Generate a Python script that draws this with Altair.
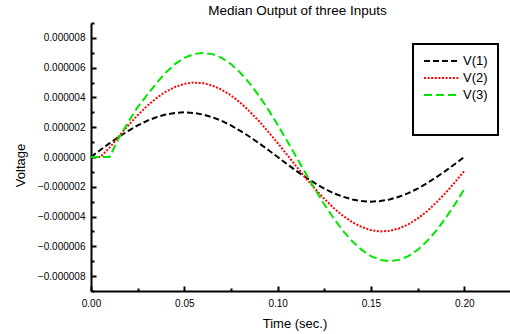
import altair as alt
import pandas as pd

# ---- data ----
time_s = [0.000, 0.005, 0.010, 0.015, 0.020, 0.025, 0.030, 0.035, 0.040, 0.045,
          0.050, 0.055, 0.060, 0.065, 0.070, 0.075, 0.080, 0.085, 0.090, 0.095,
          0.100, 0.105, 0.110, 0.115, 0.120, 0.125, 0.130, 0.135, 0.140, 0.145,
          0.150, 0.155, 0.160, 0.165, 0.170, 0.175, 0.180, 0.185, 0.190, 0.195,
          0.200]
# values in microvolts
v1_uV = [0.00, 0.47, 0.93, 1.36, 1.76, 2.12, 2.43, 2.67, 2.85, 2.96,
         3.00, 2.96, 2.85, 2.67, 2.43, 2.12, 1.76, 1.36, 0.93, 0.47,
         0.00, -0.47, -0.93, -1.36, -1.76, -2.12, -2.43, -2.67, -2.85, -2.96,
         -3.00, -2.96, -2.85, -2.67, -2.43, -2.12, -1.76, -1.36, -0.93, -0.47,
         0.00]
v2_uV = [0.00, 0.00, 0.63, 1.40, 2.13, 2.81, 3.42, 3.95, 4.38, 4.70,
         4.91, 5.00, 4.96, 4.80, 4.52, 4.14, 3.65, 3.06, 2.41, 1.69,
         0.94, 0.16, -0.63, -1.40, -2.13, -2.81, -3.42, -3.95, -4.38, -4.70,
         -4.91, -5.00, -4.96, -4.80, -4.52, -4.14, -3.65, -3.06, -2.41, -1.69,
         -0.94]
v3_uV = [0.00, 0.00, 0.00, 1.30, 2.35, 3.35, 4.15, 4.95, 5.66, 6.24,
         6.66, 6.91, 7.00, 6.91, 6.66, 6.24, 5.66, 4.95, 4.11, 3.18,
         2.16, 1.09, 0.00, -1.09, -2.16, -3.18, -4.11, -4.95, -5.66, -6.24,
         -6.66, -6.91, -7.00, -6.91, -6.66, -6.24, -5.66, -4.95, -4.11, -3.18,
         -2.16]

series_names = ["V(1)", "V(2)", "V(3)"]
series_colors = ["#000000", "#ff0000", "#00e600"]
series_dashes = [[6, 3], [2, 1.6], [8, 4]]

x_major = [0.0, 0.05, 0.10, 0.15, 0.20]
x_all_ticks = [0.0, 0.025, 0.05, 0.075, 0.10, 0.125, 0.15, 0.175, 0.20]
y_major = [-8e-6, -6e-6, -4e-6, -2e-6, 0.0, 2e-6, 4e-6, 6e-6, 8e-6]
y_all_ticks = [-9e-6, -8e-6, -7e-6, -6e-6, -5e-6, -4e-6, -3e-6, -2e-6, -1e-6, 0.0,
               1e-6, 2e-6, 3e-6, 4e-6, 5e-6, 6e-6, 7e-6, 8e-6, 9e-6]

rows = []
for name, vals in zip(series_names, [v1_uV, v2_uV, v3_uV]):
    for t, v in zip(time_s, vals):
        rows.append({"time": t, "voltage": v * 1e-6, "series": name})
df = pd.DataFrame(rows)

W, H = 419, 268
FONT = "Liberation Sans"

x_scale = alt.Scale(domain=[0, 0.2245], nice=False, zero=False)
y_scale = alt.Scale(domain=[-9e-6, 9e-6], nice=False, zero=False)

legend = alt.Legend(
    title=" ", titleOrient="bottom", titleFontSize=18, titlePadding=5,
    orient="none", legendX=322, legendY=21, padding=10,
    strokeColor="#000000", fillColor="#ffffff",
    symbolType="M-1,0H5", symbolSize=144, symbolStrokeWidth=2,
    labelFontSize=13, labelFont=FONT, labelColor="#000000", labelOffset=26,
    rowPadding=3,
)

lines = alt.Chart(df).mark_line(strokeWidth=2, strokeCap="butt").encode(
    x=alt.X("time:Q", scale=x_scale,
            axis=alt.Axis(orient="bottom", values=x_major, format=".2f",
                          ticks=False, tickSize=0, labelPadding=7,
                          labelFlush=False, labelOverlap=False,
                          domain=True, domainColor="#000000", domainWidth=2,
                          grid=False, title="Time (sec.)",
                          titleX=203.5, titleY=32, titleBaseline="middle")),
    y=alt.Y("voltage:Q", scale=y_scale,
            axis=alt.Axis(orient="left", values=y_major, format=".6f",
                          ticks=False, tickSize=0, labelPadding=6,
                          labelFlush=False, labelOverlap=False,
                          domain=True, domainColor="#000000", domainWidth=2,
                          grid=False, title="Voltage",
                          titleX=-71, titleY=142, titleAngle=270,
                          titleBaseline="middle", titleAlign="center")),
    color=alt.Color("series:N", scale=alt.Scale(domain=series_names, range=series_colors),
                    legend=legend),
    strokeDash=alt.StrokeDash("series:N", scale=alt.Scale(domain=series_names, range=series_dashes),
                              legend=legend),
)

tick_layer = alt.Chart(df).mark_point(opacity=0).encode(
    x=alt.X("time:Q", scale=x_scale,
            axis=alt.Axis(orient="top", offset=-H, values=x_all_ticks,
                          labels=False, domain=False, grid=False, title=None,
                          ticks=True, tickColor="#000000", tickWidth=2,
                          tickSize={"condition": {"test": "round(datum.value*40) % 2 == 0", "value": 5},
                                    "value": 3})),
    y=alt.Y("voltage:Q", scale=y_scale,
            axis=alt.Axis(orient="right", offset=-W, values=y_all_ticks,
                          labels=False, domain=False, grid=False, title=None,
                          ticks=True, tickColor="#000000", tickWidth=2,
                          tickSize={"condition": {"test": "abs(round(datum.value*1e6)) % 2 == 0", "value": 5},
                                    "value": 3})),
)

chart = alt.layer(lines, tick_layer).resolve_scale(
    x="independent", y="independent"
).resolve_axis(
    x="independent", y="independent"
).properties(
    width=W, height=H,
    autosize="none",
    padding={"left": 91, "top": 23, "right": 0, "bottom": 43},
    title=alt.TitleParams("Median Output of three Inputs", fontSize=13.5, font=FONT,
                          fontWeight="normal", color="#000000", anchor="middle",
                          frame="group", baseline="bottom", offset=5, dx=-3, dy=14),
).configure_view(
    stroke=None
).configure_axis(
    labelFont=FONT, labelFontSize=10, labelColor="#000000",
    titleFont=FONT, titleFontSize=13, titleFontWeight="normal", titleColor="#000000",
).configure_legend(
    strokeWidth=2
)

chart.save("out.html", embed_options={"renderer": "svg", "actions": False})
